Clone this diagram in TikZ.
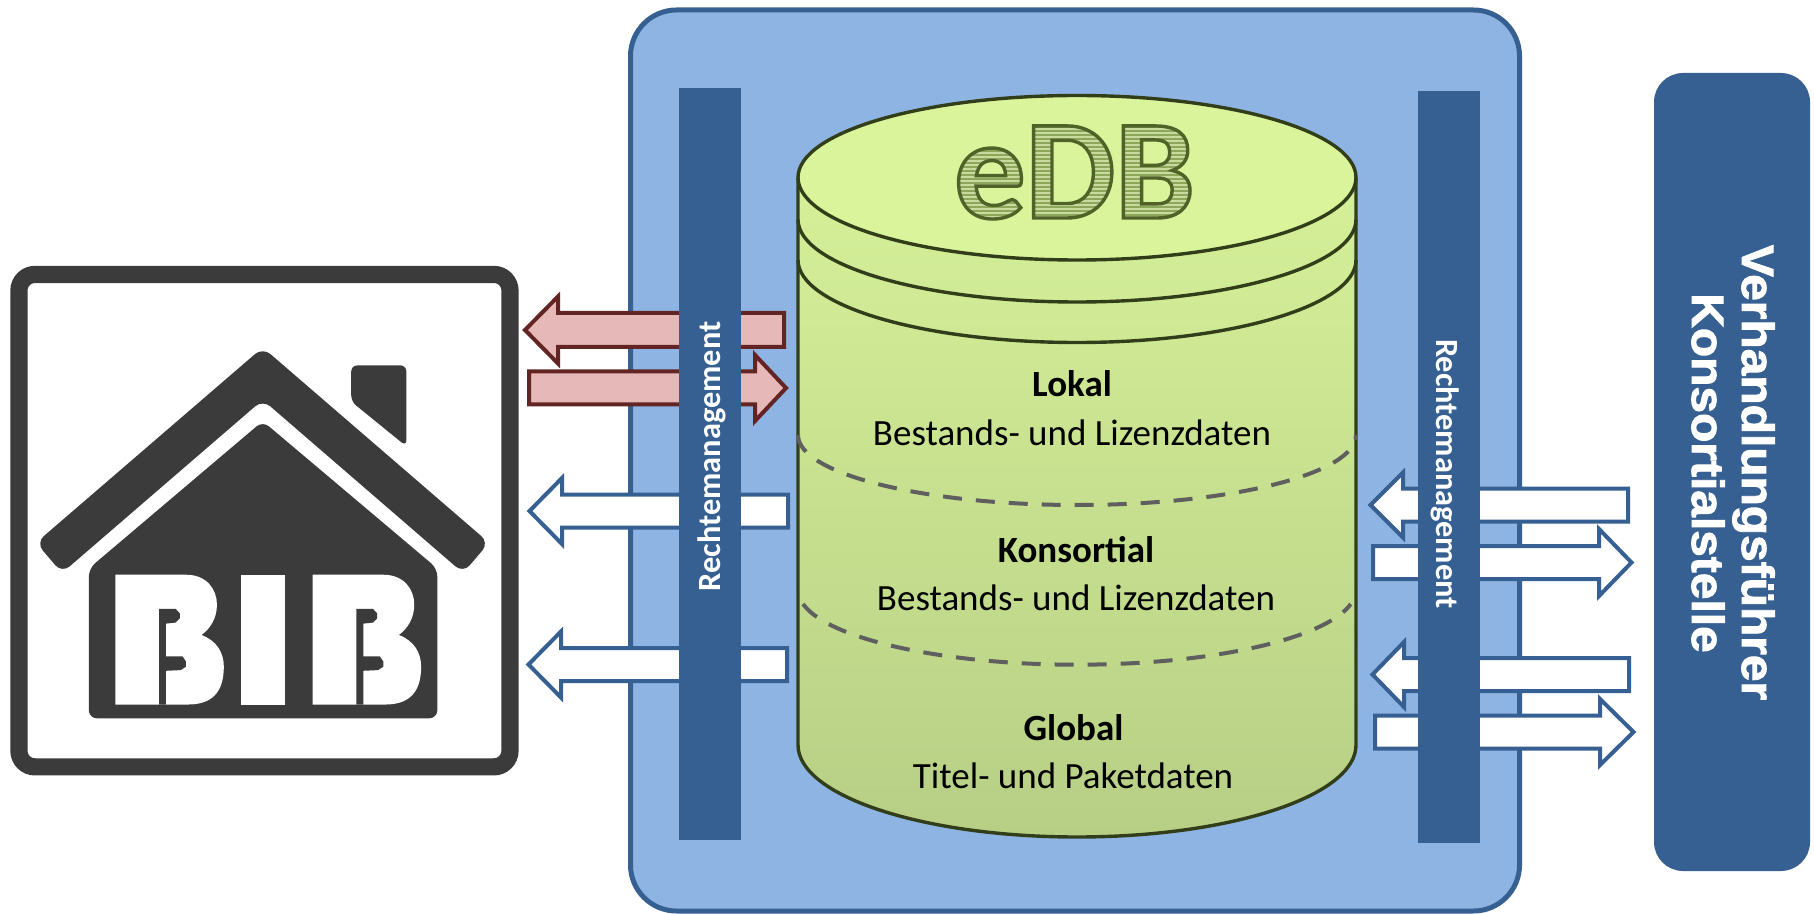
\documentclass[tikz,border=0pt]{standalone}
\usepackage{fontspec}
\setmainfont{Carlito}
\newfontface\sidefont[FakeStretch=1.06,FakeBold=2]{Liberation Sans Bold}
\definecolor{mainblue}{HTML}{8EB4E3}
\definecolor{darkblue}{HTML}{376092}
\definecolor{darkred}{HTML}{632523}
\definecolor{lightred}{HTML}{E6B9B8}
\definecolor{icongrey}{HTML}{3B3B3B}
\definecolor{dashgrey}{HTML}{5F5F5F}
\definecolor{cyltop}{HTML}{D9F49B}
\definecolor{cylbottom}{HTML}{B7CF85}
\definecolor{cylline}{HTML}{323E19}
\definecolor{hatchlight}{HTML}{C8DA9E}
\definecolor{hatchdark}{HTML}{8CA65A}
\tikzset{
  redarrow/.style={draw=darkred,fill=lightred,line width=2pt,miter limit=10},
  bluearrow/.style={draw=darkblue,fill=white,line width=2pt,miter limit=10},
  rightsbar/.style={fill=darkblue,draw=none},
  rightslabel/.style={text=white,font=\fontsize{16.2}{17}\selectfont\bfseries,inner sep=0pt},
  cylarc/.style={draw=cylline,line width=1.7pt},
  cyldash/.style={draw=dashgrey,line width=2pt,dash pattern=on 9.5pt off 7pt},
  layerhead/.style={text=black,font=\fontsize{18.5}{20}\selectfont\bfseries,anchor=base,inner sep=0pt},
  layertext/.style={text=black,font=\fontsize{18.5}{20}\selectfont,anchor=base,inner sep=0pt},
  sidelabel/.style={text=white,rotate=-90,anchor=base,inner sep=0pt,font=\fontsize{22.6}{25}\selectfont\sidefont},
  iconwhite/.style={fill=white,draw=none},
  icondark/.style={fill=icongrey,draw=none},
}
\newcommand{\blockarrow}[7]{%
  \draw[#1] (#2,#3) -- (#4,#3-#5+2) -- (#4,#3-#6) -- (#7,#3-#6) -- (#7,#3+#6) -- (#4,#3+#6) -- (#4,#3+#5-2) -- cycle;}
\newcommand{\bshape}[1]{%
  \begin{scope}[xshift=#1]
  \fill[iconwhite] (335,943) -- (540,943) .. controls (600,943) and (630,985) .. (630,1030)
    .. controls (630,1070) and (610,1100) .. (585,1118)
    .. controls (630,1135) and (650,1170) .. (650,1210)
    .. controls (650,1290) and (610,1320) .. (545,1320) -- (335,1320) -- cycle;
  \fill[icondark] (462,1320) -- (462,1042) -- (510,1042) -- (522,1055) -- (522,1070) -- (510,1082) -- (482,1085)
    -- (482,1180) -- (530,1180) -- (540,1195) -- (540,1210) -- (525,1220) -- (482,1222) -- (482,1320) -- cycle;
  \end{scope}}
\newcommand{\edbword}{eDB}
\begin{document}
\begin{tikzpicture}[x=0.5pt,y=-0.5pt]
\useasboundingbox (0,0) rectangle (1814,914);
% main box
\draw[fill=mainblue,draw=darkblue,line width=2.5pt,rounded corners=23pt] (630.5,10) rectangle (1519.5,911);
% cylinder
\shade[top color=cyltop,bottom color=cylbottom] (798,177.5) arc[start angle=180,end angle=360,x radius=279,y radius=82] -- (1356,745) arc[start angle=0,end angle=180,x radius=279,y radius=92] -- cycle;
\fill[cyltop] (1077,177.5) ellipse[x radius=279,y radius=82];
\draw[cylarc] (798,177.5) arc[start angle=180,end angle=360,x radius=279,y radius=82] -- (1356,745) arc[start angle=0,end angle=180,x radius=279,y radius=92] -- cycle;
\draw[cylarc] (798,177.5) arc[start angle=180,end angle=0,x radius=279,y radius=82.5];
\draw[cylarc] (798,219.5) arc[start angle=180,end angle=0,x radius=279,y radius=82.5];
\draw[cylarc] (798,260) arc[start angle=180,end angle=0,x radius=279,y radius=82.5];
\draw[cyldash] (798,435) arc[start angle=180,end angle=0,x radius=279,y radius=70];
\draw[cyldash] (803,604) arc[start angle=169,end angle=11,x radius=279,y radius=75];
% eDB
\node[anchor=base,inner sep=0pt,font=\fontsize{71}{71}\selectfont\bfseries] (edb) at (1074.5,218) {%
  \special{x:gsave}\special{pdf:code 7 Tr}\rlap{\edbword}\special{pdf:code 0 Tr}%
  \rlap{\textcolor{hatchlight}{\rule[-2pt]{130pt}{56pt}}}%
  \foreach \k in {-1,1,...,53}{\rlap{\textcolor{hatchdark}{\rule[\k pt]{130pt}{1pt}}}}%
  \special{x:grestore}%
  \special{x:gsave}\special{pdf:code 1 Tr 1.7 w 0.31 0.385 0.157 RG}\edbword\special{x:grestore}\special{pdf:code 0 Tr}};
% layer labels
\node[layerhead] (lokal) at (1072,397) {Lokal};
\node[layertext] (lokaltext) at (1072,445) {Bestands- und Lizenzdaten};
\node[layerhead] (kons) at (1076,562) {Konsortial};
\node[layertext] (konstext) at (1076,610) {Bestands- und Lizenzdaten};
\node[layerhead] (global) at (1073.5,740) {Global};
\node[layertext] (globaltext) at (1073,788) {Titel- und Paketdaten};
% arrows
\blockarrow{redarrow}{525}{330}{558}{35.5}{17}{784}
\blockarrow{redarrow}{786}{388}{755}{35}{16.5}{529}
\blockarrow{bluearrow}{529.5}{511}{562}{35}{16.5}{788}
\blockarrow{bluearrow}{528.5}{664.5}{561}{35}{16.5}{787}
\blockarrow{bluearrow}{1370.5}{505}{1403}{34.5}{16.5}{1628}
\blockarrow{bluearrow}{1631.5}{562.5}{1599}{35.5}{16.5}{1373}
\blockarrow{bluearrow}{1372.5}{674.5}{1404}{34.5}{16.5}{1629}
\blockarrow{bluearrow}{1633.5}{732}{1600}{35}{16.5}{1375}
% bars
\node[rightsbar,minimum width=31pt,minimum height=376pt,inner sep=0pt] (barleft) at (710,464) {};
\node[rightsbar,minimum width=31pt,minimum height=376pt,inner sep=0pt] (barright) at (1449,467) {};
\node[rightslabel,rotate=90] (barlefttext) at (712,456.5) {Rechtemanagement};
\node[rightslabel,rotate=-90] (barrighttext) at (1445,474) {Rechtemanagement};
% right box
\node[fill=darkblue,draw=none,rounded corners=14.5pt,minimum width=78pt,minimum height=399pt,inner sep=0pt] (kstelle) at (1732,472) {};
\node[sidelabel] (verhandlung) at (1742,472.5) {Verhandlungsführer};
\node[sidelabel] (konsortialst) at (1692,473) {Konsortialstelle};
% BIB icon
\begin{scope}[shift={(0,250)},scale=0.34435]
\draw[draw=icongrey,line width=8.6pt,rounded corners=8pt,fill=white] (55,71) rectangle (1481,1501);
\fill[icondark,rounded corners=5pt] (763,283) -- (1420,850) -- (1345,938) -- (763,435) -- (180,938) -- (105,850) -- cycle;
\fill[icondark,rounded corners=3pt] (1020,335) -- (1180,335) -- (1180,570) -- (1020,440) -- cycle;
\fill[icondark,rounded corners=4pt] (763,497) -- (1270,925) -- (1270,1360) -- (258,1360) -- (258,925) -- cycle;
\bshape{0}
\fill[iconwhite] (700,943) rectangle (828,1320);
\bshape{573*0.5pt}
\end{scope}
\end{tikzpicture}
\end{document}
